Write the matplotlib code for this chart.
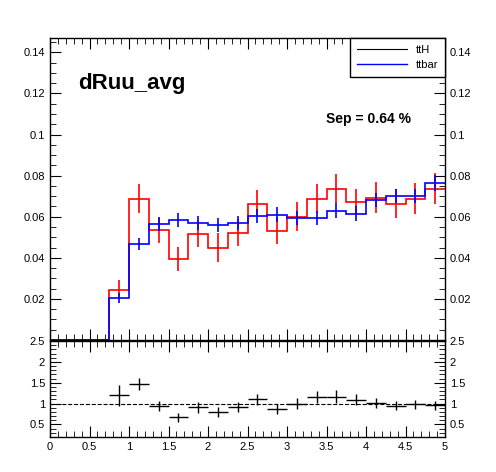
import numpy as np
import matplotlib.pyplot as plt
from matplotlib.lines import Line2D

plt.rcParams['font.family'] = ['Liberation Sans', 'DejaVu Sans']

edges = np.arange(0, 5.01, 0.25)
tth = [0, 0, 0, 0.0245, 0.0688, 0.0533, 0.0395, 0.0518, 0.0449, 0.0522, 0.0663, 0.0532,
       0.0600, 0.0688, 0.0736, 0.0672, 0.0692, 0.0663, 0.0688, 0.0736]
tth_err = [0, 0, 0, 0.0045, 0.0070, 0.0060, 0.0060, 0.0065, 0.0070, 0.0065, 0.0065, 0.0065,
           0.0070, 0.0070, 0.0070, 0.0065, 0.0075, 0.0070, 0.0075, 0.0075]
ttbar = [0, 0, 0, 0.0205, 0.0468, 0.0565, 0.0585, 0.0570, 0.0560, 0.0570, 0.0605, 0.0610,
         0.0595, 0.0595, 0.0630, 0.0615, 0.0680, 0.0700, 0.0700, 0.0765]
ttbar_err = [0, 0, 0, 0.0025, 0.0030, 0.0035, 0.0035, 0.0035, 0.0035, 0.0035, 0.0035, 0.0035,
             0.0035, 0.0035, 0.0035, 0.0035, 0.0035, 0.0035, 0.0035, 0.0040]
ratio = [np.nan, np.nan, np.nan, 1.20, 1.47, 0.94, 0.67, 0.91, 0.80, 0.91, 1.10, 0.87,
         1.00, 1.16, 1.17, 1.09, 1.02, 0.95, 0.98, 0.96]
ratio_err = [0, 0, 0, 0.25, 0.15, 0.12, 0.11, 0.13, 0.13, 0.12, 0.13, 0.12,
             0.13, 0.14, 0.15, 0.13, 0.12, 0.11, 0.11, 0.11]

centers = (edges[:-1] + edges[1:]) / 2
W, H = 496, 472
fig = plt.figure(figsize=(W/100, H/100), dpi=100)
ax = fig.add_axes([50/W, 1-340/H, 395/W, 302/H])
axr = fig.add_axes([50/W, 1-437/H, 395/W, 96/H])

m = np.array(tth) > 0
ax.stairs(tth, edges, color='red', lw=1.2, baseline=None)
ax.errorbar(centers[m], np.array(tth)[m], yerr=np.array(tth_err)[m], fmt='none', ecolor='red', lw=1.2)
ax.stairs(ttbar, edges, color='blue', lw=1.2, baseline=None)
ax.errorbar(centers[m], np.array(ttbar)[m], yerr=np.array(ttbar_err)[m], fmt='none', ecolor='blue', lw=1.2)
ax.set_xlim(0, 5)
ax.set_ylim(0, 0.147)
ax.set_yticks([0.02, 0.04, 0.06, 0.08, 0.1, 0.12, 0.14])
ax.set_yticklabels(['0.02', '0.04', '0.06', '0.08', '0.1', '0.12', '0.14'])
ax.set_xticks(np.arange(0, 5.01, 0.5))
ax.set_xticklabels([])
ax.text(0.07, 0.83, 'dRuu_avg', transform=ax.transAxes, fontsize=16, fontweight='bold')
ax.text(0.70, 0.72, 'Sep = 0.64 %', transform=ax.transAxes, fontsize=10, fontweight='bold')
handles = [Line2D([], [], color='black', lw=0.8), Line2D([], [], color='blue', lw=1)]
ax.legend(handles, ['ttH', 'ttbar'], loc='upper right', fancybox=False, edgecolor='black',
          framealpha=1, fontsize=8, borderaxespad=0, handlelength=4.5, borderpad=0.6)

axr.errorbar(centers, ratio, yerr=ratio_err, xerr=0.125, fmt='none', ecolor='black', lw=1)
axr.axhline(1, color='black', ls='--', lw=0.8)
axr.set_xlim(0, 5)
axr.set_ylim(0.2, 2.5)
axr.set_yticks([0.5, 1, 1.5, 2, 2.5])
axr.set_yticklabels(['0.5', '1', '1.5', '2', '2.5'])
axr.set_xticks(np.arange(0, 5.01, 0.5))
axr.set_xticklabels(['0', '0.5', '1', '1.5', '2', '2.5', '3', '3.5', '4', '4.5', '5'])

for a in (ax, axr):
    a.minorticks_on()
    a.tick_params(which='both', direction='in', top=True, right=True, labelright=True, labelsize=8)
    a.tick_params(which='major', length=8)
    a.tick_params(which='minor', length=4)
    for s in a.spines.values():
        s.set_linewidth(1)

fig.savefig('out.png', dpi=100)
